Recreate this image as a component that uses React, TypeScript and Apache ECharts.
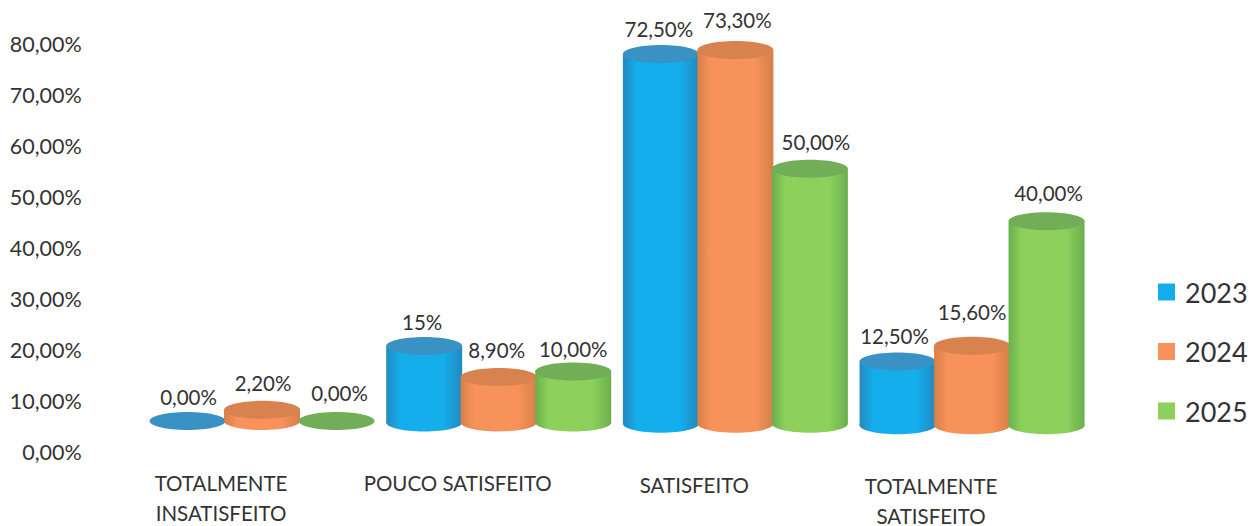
import React, { useEffect, useRef } from "react";
import * as echarts from "echarts";

const categories = ["TOTALMENTE\nINSATISFEITO", "POUCO SATISFEITO", "SATISFEITO", "TOTALMENTE\nSATISFEITO"];
const years = ["2023", "2024", "2025"];
const values2023 = [0, 15, 72.5, 12.5];
const values2024 = [2.2, 8.9, 73.3, 15.6];
const values2025 = [0, 10, 50, 40];
const labels2023 = ["0,00%", "15%", "72,50%", "12,50%"];
const labels2024 = ["2,20%", "8,90%", "73,30%", "15,60%"];
const labels2025 = ["0,00%", "10,00%", "50,00%", "40,00%"];
const yTicks = (v: number) => v.toFixed(2).replace(".", ",") + "%";

const FONT = "Lato, 'Open Sans', sans-serif";
const INK = "#333333";
const SPACING = 74.5;
const GROUP_SHIFT = 41;
const HALF_WIDTH = 38;
const RY = 9;
const labelGap = [
  [24, 24, 25, 25],
  [27, 27, 30, 34],
  [28, 22, 27, 28],
];
const labelShift = [
  [1, -2, -2, -3],
  [1, -2, 2, 0],
  [3, 0, 6, 2],
];
const labelDown = [0, 0, 4, 5];
const palette = [
  { main: "#14AEEC", edge: "#2488BE", top: "#3A92C4" },
  { main: "#F7935A", edge: "#D77F48", top: "#D8834F" },
  { main: "#8DD15C", edge: "#6BAF4E", top: "#71AE57" },
];

function makeRender(yearIndex: number, texts: string[]) {
  return (_params: any, api: any) => {
    const cat = api.value(0);
    const val = api.value(1);
    const base = api.coord([cat, 0]);
    const top = api.coord([cat, val]);
    const lift = 31 - cat * 1.4;
    const cx = base[0] + GROUP_SHIFT + (yearIndex - 1) * SPACING;
    const yBase = base[1] - lift;
    const yTop = top[1] - lift;
    const c = palette[yearIndex];
    const fill = new echarts.graphic.LinearGradient(0, 0, 1, 0, [
      { offset: 0, color: c.edge },
      { offset: 0.18, color: c.main },
      { offset: 0.75, color: c.main },
      { offset: 1, color: c.edge },
    ]);
    const children: any[] = [];
    if (val > 0) {
      children.push({
        type: "ellipse",
        shape: { cx, cy: yBase, rx: HALF_WIDTH, ry: RY },
        style: { fill },
      });
      children.push({
        type: "rect",
        shape: { x: cx - HALF_WIDTH, y: yTop, width: HALF_WIDTH * 2, height: yBase - yTop },
        style: { fill },
      });
    }
    children.push({
      type: "ellipse",
      shape: { cx, cy: yTop, rx: HALF_WIDTH, ry: RY },
      style: { fill: c.top },
    });
    children.push({
      type: "text",
      style: {
        text: texts[cat],
        x: cx + labelShift[yearIndex][cat],
        y: yTop - labelGap[yearIndex][cat],
        textAlign: "center",
        textVerticalAlign: "middle",
        fontSize: 20.5,
        fontFamily: FONT,
        fill: INK,
      },
    });
    return { type: "group", children };
  };
}

export default function App() {
  const ref = useRef<HTMLDivElement>(null);
  useEffect(() => {
    document.body.style.margin = "0";
    const chart = echarts.init(ref.current!, null, { renderer: "svg" });
    const sets = [
      { values: values2023, texts: labels2023 },
      { values: values2024, texts: labels2024 },
      { values: values2025, texts: labels2025 },
    ];
    const rich: any = {};
    categories.forEach((_, i) => {
      rich["c" + i] = {
        fontSize: 20.5,
        fontFamily: FONT,
        color: INK,
        lineHeight: 30,
        padding: [labelDown[i], 0, 0, 0],
      };
    });
    chart.setOption({
      animation: false,
      backgroundColor: "#ffffff",
      grid: { left: 102.7, top: 44, width: 946.7, height: 408 },
      legend: {
        orient: "vertical",
        left: 1158,
        top: 276,
        padding: 0,
        itemWidth: 17,
        itemHeight: 17,
        itemGap: 27.5,
        icon: "rect",
        data: years,
        textStyle: { fontSize: 27, lineHeight: 32, fontFamily: FONT, color: INK, padding: [0, 0, 0, 5] },
      },
      xAxis: {
        type: "category",
        data: categories,
        axisLine: { show: false },
        axisTick: { show: false },
        axisLabel: {
          interval: 0,
          margin: 16,
          rich,
          formatter: (v: string, i: number) =>
            v.split("\n").map((l) => `{c${i}|${l}}`).join("\n"),
        },
      },
      yAxis: {
        type: "value",
        min: 0,
        max: 80,
        interval: 10,
        splitLine: { show: false },
        axisLine: { show: false },
        axisTick: { show: false },
        axisLabel: {
          margin: 21,
          fontSize: 21.5,
          fontFamily: FONT,
          color: INK,
          formatter: yTicks,
        },
      },
      series: sets.map((s, i) => ({
        type: "custom",
        name: years[i],
        coordinateSystem: "cartesian2d",
        itemStyle: { color: palette[i].main },
        clip: false,
        encode: { x: 0, y: 1 },
        data: s.values.map((v, c) => [c, v]),
        renderItem: makeRender(i, s.texts),
      })),
    });
    return () => chart.dispose();
  }, []);
  return <div ref={ref} style={{ position: "absolute", left: 0, top: 0, width: 1259, height: 526 }} />;
}
